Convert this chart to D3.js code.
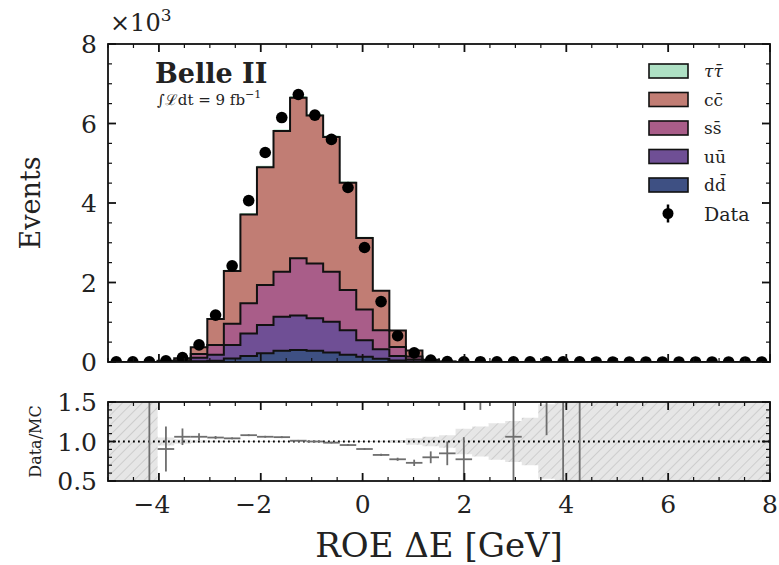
<!DOCTYPE html>
<html>
<head>
<meta charset="utf-8">
<script src="https://cdn.jsdelivr.net/npm/d3@7"></script>
<style>
  body { margin: 0; background: #fff; }
  text { font-family: "DejaVu Serif", serif; fill: #222; }
</style>
</head>
<body>
<svg width="779" height="565"></svg>
<script>
// Binning: 40 bins from -5 to 8 GeV
const xMin = -5, xMax = 8, nBins = 40;
const binW = (xMax - xMin) / nBins;

// MC components (events per bin)
const tau = [0,0,0,0,2,10,20,30,40,40,40,40,40,40,30,30,20,10,10,3,1,0,0,0,0,0,0,0,0,0,0,0,0,0,0,0,0,0,0,0];
const cc  = [0,0,0,15,50,170,650,1330,2230,2960,3540,4040,3720,3390,2700,1800,990,410,150,25,6,0,0,0,0,0,0,0,0,0,0,0,0,0,0,0,0,0,0,0];
const ss  = [0,0,0,7,25,90,250,530,760,1010,1130,1440,1380,1260,1010,770,480,230,80,15,3,0,0,0,0,0,0,0,0,0,0,0,0,0,0,0,0,0,0,0];
const uu  = [0,0,0,5,15,90,150,340,570,710,860,870,820,770,620,420,240,110,45,11,2,0,0,0,0,0,0,0,0,0,0,0,0,0,0,0,0,0,0,0];
const dd  = [0,0,0,2,5,20,30,90,150,220,280,300,280,240,180,130,80,40,15,4,1,0,0,0,0,0,0,0,0,0,0,0,0,0,0,0,0,0,0,0];

// Data counts per bin
const dataCounts = [3,4,6,28,110,430,1180,2420,4060,5270,6150,6730,6210,5600,4390,2880,1520,660,230,50,12,6,8,3,2,5,2,3,2,1,1,1,1,1,1,1,1,1,1,1];

// Data/MC ratio and its error (null = not drawn)
const ratio    = [null,null,2.0,0.905,1.06,1.06,1.05,1.04,1.08,1.06,1.055,1.01,1.0,0.985,0.955,0.905,0.83,0.775,0.73,0.80,0.85,0.775,2.0,null,1.06,null,2.5,3.0,3.0,null,null,null,null,null,null,null,null,null,null,null];
const ratioErr = [null,null,3,0.285,0.105,0.045,0.02,0.012,0.012,0.012,0.012,0.01,0.01,0.01,0.012,0.012,0.015,0.02,0.04,0.075,0.15,0.28,0.6,null,1.5,null,1.42,3,3,null,null,null,null,null,null,null,null,null,null,null];

// relative MC stat. uncertainty (hatched band)
const mcErr = [1,1,1,0.05,0.03,0.015,0.01,0.006,0.005,0.005,0.005,0.005,0.005,0.005,0.005,0.006,0.01,0.02,0.04,0.06,0.08,0.16,0.19,0.23,0.26,0.3,0.47,1,1,1,1,1,1,1,1,1,1,1,1,1];

const components = [
  {key: "dd",  label: "d", bar: "d", values: dd,  color: "#3e5083"},
  {key: "uu",  label: "u", bar: "u", values: uu,  color: "#6f4f95"},
  {key: "ss",  label: "s", bar: "s", values: ss,  color: "#a95d89"},
  {key: "cc",  label: "c", bar: "c", values: cc,  color: "#c17d74"},
  {key: "tau", label: "τ", bar: "τ", values: tau, color: "#aee0c4"}
];

const svg = d3.select("svg");
const L = 108, R = 770;
const mainTop = 44, mainBot = 362;
const ratTop = 402, ratBot = 481;

const x = d3.scaleLinear().domain([xMin, xMax]).range([L, R]);
const y = d3.scaleLinear().domain([0, 8000]).range([mainBot, mainTop]);
const yr = d3.scaleLinear().domain([0.5, 1.5]).range([ratBot, ratTop]);

const edges = d3.range(nBins + 1).map(i => xMin + i * binW);
const centers = d3.range(nBins).map(i => xMin + (i + 0.5) * binW);

// clip paths + hatch pattern
const defs = svg.append("defs");
defs.append("clipPath").attr("id", "clipMain").append("rect")
  .attr("x", L).attr("y", mainTop).attr("width", R - L).attr("height", mainBot - mainTop);
defs.append("clipPath").attr("id", "clipRat").append("rect")
  .attr("x", L).attr("y", ratTop).attr("width", R - L).attr("height", ratBot - ratTop);
const pat = defs.append("pattern").attr("id", "hatch")
  .attr("patternUnits", "userSpaceOnUse").attr("width", 7).attr("height", 7)
  .attr("patternTransform", "rotate(45)");
pat.append("rect").attr("width", 7).attr("height", 7).attr("fill", "#e6e6e6");
pat.append("line").attr("x1", 0).attr("y1", 0).attr("x2", 0).attr("y2", 7)
  .attr("stroke", "#bcbcbc").attr("stroke-width", 1.2);

// ---- stacked histogram ----
const stackData = d3.range(nBins).map(i => {
  const o = {};
  components.forEach(c => o[c.key] = c.values[i]);
  return o;
});
const series = d3.stack().keys(components.map(c => c.key))(stackData);

const gMain = svg.append("g").attr("clip-path", "url(#clipMain)");

// extend each series with a closing point at the last edge
function stepPts(s) {
  const pts = s.map((d, i) => ({x: edges[i], y0: d[0], y1: d[1]}));
  const last = s[s.length - 1];
  pts.push({x: edges[nBins], y0: last[0], y1: last[1]});
  return pts;
}
const area = d3.area().curve(d3.curveStepAfter)
  .x(d => x(d.x)).y0(d => y(d.y0)).y1(d => y(d.y1));
const topLine = d3.line().curve(d3.curveStepAfter)
  .x(d => x(d.x)).y(d => y(d.y1));

series.forEach((s, k) => {
  const comp = components[k];
  gMain.append("path").datum(stepPts(s))
    .attr("d", area).attr("fill", comp.color);
});
series.forEach((s, k) => {
  const comp = components[k];
  if (comp.key === "tau") return;
  gMain.append("path").datum(stepPts(s))
    .attr("d", topLine).attr("fill", "none")
    .attr("stroke", "#111").attr("stroke-width", 2);
});

// data points
gMain.selectAll("circle.data").data(dataCounts).join("circle")
  .attr("class", "data")
  .attr("cx", (d, i) => x(centers[i]))
  .attr("cy", d => y(d))
  .attr("r", 5.8)
  .attr("fill", "#000");

// ---- ratio panel ----
const gRat = svg.append("g").attr("clip-path", "url(#clipRat)");
const bandPts = mcErr.map((e, i) => ({x: edges[i], lo: 1 - e, hi: 1 + e}));
bandPts.push({x: edges[nBins], lo: 1 - mcErr[nBins - 1], hi: 1 + mcErr[nBins - 1]});
gRat.append("path").datum(bandPts)
  .attr("d", d3.area().curve(d3.curveStepAfter)
    .x(d => x(d.x)).y0(d => yr(d.lo)).y1(d => yr(d.hi)))
  .attr("fill", "url(#hatch)");

gRat.append("line")
  .attr("x1", L).attr("x2", R).attr("y1", yr(1)).attr("y2", yr(1))
  .attr("stroke", "#000").attr("stroke-width", 1.8).attr("stroke-dasharray", "1.8,3.2");

const pts = d3.range(nBins).filter(i => ratio[i] !== null);
const errG = gRat.selectAll("g.err").data(pts).join("g").attr("class", "err");
errG.append("line")
  .attr("x1", i => x(edges[i])).attr("x2", i => x(edges[i + 1]))
  .attr("y1", i => yr(ratio[i])).attr("y2", i => yr(ratio[i]))
  .attr("stroke", "#6e6e6e").attr("stroke-width", 1.8);
errG.append("line")
  .attr("x1", i => x(centers[i])).attr("x2", i => x(centers[i]))
  .attr("y1", i => yr(ratio[i] - ratioErr[i])).attr("y2", i => yr(ratio[i] + ratioErr[i]))
  .attr("stroke", "#6e6e6e").attr("stroke-width", 1.8);

// ---- frames and ticks ----
function frame(top, bot) {
  svg.append("rect").attr("x", L).attr("y", top).attr("width", R - L).attr("height", bot - top)
    .attr("fill", "none").attr("stroke", "#111").attr("stroke-width", 1.8);
}
function xTicks(top, bot) {
  const major = d3.range(-4, 8.01, 2);
  const minor = d3.range(-5, 8.01, 0.5).filter(v => Math.abs(v / 2 - Math.round(v / 2)) > 1e-6);
  [[major, 8], [minor, 4]].forEach(([vals, len]) => {
    vals.forEach(v => {
      svg.append("line").attr("x1", x(v)).attr("x2", x(v)).attr("y1", bot).attr("y2", bot - len)
        .attr("stroke", "#111").attr("stroke-width", len > 5 ? 1.8 : 1.2);
      svg.append("line").attr("x1", x(v)).attr("x2", x(v)).attr("y1", top).attr("y2", top + len)
        .attr("stroke", "#111").attr("stroke-width", len > 5 ? 1.8 : 1.2);
    });
  });
}
function yTicks(scale, major, minor) {
  [[major, 8], [minor, 4]].forEach(([vals, len]) => {
    vals.forEach(v => {
      svg.append("line").attr("x1", L).attr("x2", L + len).attr("y1", scale(v)).attr("y2", scale(v))
        .attr("stroke", "#111").attr("stroke-width", len > 5 ? 1.8 : 1.2);
      svg.append("line").attr("x1", R).attr("x2", R - len).attr("y1", scale(v)).attr("y2", scale(v))
        .attr("stroke", "#111").attr("stroke-width", len > 5 ? 1.8 : 1.2);
    });
  });
}

frame(mainTop, mainBot);
frame(ratTop, ratBot);
xTicks(mainTop, mainBot);
xTicks(ratTop, ratBot);
yTicks(y, d3.range(0, 8001, 2000), d3.range(500, 8000, 500).filter(v => v % 2000 !== 0));
yTicks(yr, [0.5, 1.0, 1.5], [0.6, 0.7, 0.8, 0.9, 1.1, 1.2, 1.3, 1.4]);

// tick labels
const yTickLabels = ["0", "2", "4", "6", "8"];
yTickLabels.forEach((t, i) => {
  svg.append("text").attr("x", 97).attr("y", y(i * 2000) + 9)
    .attr("text-anchor", "end").attr("font-size", 25).text(t);
});
const rTickLabels = ["0.5", "1.0", "1.5"];
rTickLabels.forEach((t, i) => {
  svg.append("text").attr("x", 97).attr("y", yr(0.5 + i * 0.5) + 9)
    .attr("text-anchor", "end").attr("font-size", 25).text(t);
});
const xTickLabels = ["\u22124", "\u22122", "0", "2", "4", "6", "8"];
xTickLabels.forEach((t, i) => {
  svg.append("text").attr("x", x(-4 + 2 * i) + (i === 0 || i === 1 ? -7 : 0)).attr("y", 513)
    .attr("text-anchor", "middle").attr("font-size", 25).text(t);
});

// axis titles
svg.append("text").attr("transform", `translate(40,${(mainTop + mainBot) / 2}) rotate(-90)`)
  .attr("text-anchor", "middle").attr("font-size", 27).text("Events");
svg.append("text").attr("transform", `translate(41,${(ratTop + ratBot) / 2}) rotate(-90)`)
  .attr("text-anchor", "middle").attr("font-size", 16).text("Data/MC");
svg.append("text").attr("x", 439).attr("y", 557)
  .attr("text-anchor", "middle").attr("font-size", 34).text("ROE \u0394E [GeV]");

// multiplier
const mult = svg.append("text").attr("x", 110).attr("y", 31).attr("font-size", 24);
mult.append("tspan").text("\u00d710");
mult.append("tspan").attr("dy", -10).attr("font-size", 17).text("3");

// experiment label
svg.append("text").attr("x", 155).attr("y", 83).attr("font-size", 27)
  .attr("font-weight", "bold").text("Belle II");
const lumi = svg.append("text").attr("x", 157).attr("y", 105).attr("font-size", 15);
lumi.append("tspan").text("\u222b");
lumi.append("tspan").text("\u2112");
lumi.append("tspan").text("dt = 9 fb");
lumi.append("tspan").attr("dy", -7).attr("font-size", 11).text("\u22121");

// legend
const legendItems = components.slice().reverse();
const lg = svg.append("g");
legendItems.forEach((c, i) => {
  const cy = 71 + i * 28.5;
  lg.append("rect").attr("x", 649).attr("y", cy - 7).attr("width", 39).attr("height", 14)
    .attr("fill", c.color).attr("stroke", "#111").attr("stroke-width", 1.6);
  const t = lg.append("text").attr("x", 704).attr("y", cy + 6).attr("font-size", 17);
  t.append("tspan").attr("font-style", c.key === "tau" ? "italic" : null).text(c.label);
  t.append("tspan").attr("font-style", c.key === "tau" ? "italic" : null).text(c.bar + "\u0304");
});
const dy0 = 71 + 5 * 28.5;
lg.append("line").attr("x1", 668).attr("x2", 668).attr("y1", dy0 - 9).attr("y2", dy0 + 9)
  .attr("stroke", "#000").attr("stroke-width", 2.5);
lg.append("circle").attr("cx", 668).attr("cy", dy0).attr("r", 5.5).attr("fill", "#000");
lg.append("text").attr("x", 704).attr("y", dy0 + 7).attr("font-size", 19).text("Data");
</script>
</body>
</html>
